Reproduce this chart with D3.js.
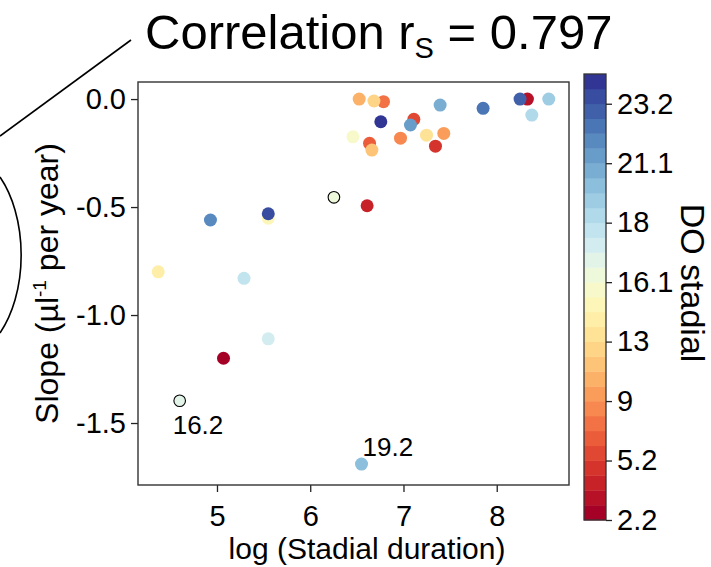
<!DOCTYPE html>
<html>
<head>
<meta charset="utf-8">
<script src="https://cdn.jsdelivr.net/npm/d3@7"></script>
<style>
    body { margin: 0; background: #fff; }
    svg { display: block; font-family: "Liberation Sans", Arial, Helvetica, sans-serif; }
</style>
</head>
<body>
<div id="main"></div>
<script>
"use strict";

// DO stadials in order, index = colour band on the colorbar
const stadials = ["2.2", "3", "4", "5.1", "5.2", "6", "7", "8", "9", "10", "11", "12", "13", "14",
    "15.1", "15.2", "16.1", "16.2", "17.1", "17.2", "18", "19.1", "19.2", "20", "21.1", "21.2",
    "22", "23.1", "23.2", "24.1"];

// one point per stadial (drawing order kept so overlaps look the same)
const pointStadial = ["14", "21.2", "15.1", "23.2", "17.2", "17.1", "2.2", "16.2", "19.2", "16.1", "4",
    "10", "7", "12", "24.1", "15.2", "6", "11", "8", "5.2", "21.1", "20", "13", "9", "5.1",
    "22", "3", "23.1", "19.1", "18"];
const logDuration = [4.37, 4.93, 5.55, 5.55, 5.29, 5.55, 5.07, 4.60, 6.55, 6.254, 6.61,
    6.525, 6.786, 6.683, 6.757, 6.458, 6.636, 6.661, 6.968, 7.111, 7.075, 7.393, 7.247, 7.432, 7.343,
    7.854, 8.329, 8.25, 8.558, 8.376];
const slope = [-0.80, -0.56, -0.552, -0.531, -0.83, -1.11, -1.20, -1.397, -1.69, -0.455, -0.494,
    0.0, -0.012, -0.009, -0.105, -0.175, -0.205, -0.236, -0.181, -0.094, -0.120, -0.028, -0.167, -0.159, -0.218,
    -0.043, 0.0, 0.0, 0.0, -0.074];

const edgedStadials = ["16.1", "16.2"];
const labelledStadials = ["16.2", "19.2"];

const xTicks = [5, 6, 7, 8];
const yTicks = [0.0, -0.5, -1.0, -1.5];
const colorbarTicks = ["2.2", "5.2", "9", "13", "16.1", "18", "21.1", "23.2"];

const correlation = "0.797";

function stadialColor(name) {
    const i = stadials.indexOf(name);
    return d3.interpolateRdYlBu(i / (stadials.length - 1));
}

function draw() {
    const width = 711, height = 567;
    const plot = { left: 138, right: 569, top: 82, bottom: 485 };
    const bar = { left: 584, right: 606, top: 74, bottom: 520 };

    const svg = d3.select("#main").append("svg")
        .attr("width", width)
        .attr("height", height);

    const x = d3.scaleLinear().domain([4.153, 8.775]).range([plot.left, plot.right]);
    const y = d3.scaleLinear().domain([-1.787, 0.079]).range([plot.bottom, plot.top]);

    // bits of the neighbouring panel that got cropped into the figure
    svg.append("path")
        .attr("d", "M0,136 L131,40")
        .attr("stroke", "#000").attr("stroke-width", 1.6).attr("fill", "none");
    svg.append("path")
        .attr("d", "M0,177 A61,103 0 0 1 0,333")
        .attr("stroke", "#000").attr("stroke-width", 1.6).attr("fill", "none");

    // title with subscript
    const title = svg.append("text")
        .attr("x", 145).attr("y", 49)
        .attr("font-size", 49).attr("fill", "#000");
    title.append("tspan").text("Correlation r");
    title.append("tspan").attr("font-size", 29).attr("dy", 9).text("S");
    title.append("tspan").attr("dy", -9).text(" = " + correlation);

    // axes
    const xAxis = d3.axisBottom(x).tickValues(xTicks).tickSize(7).tickPadding(13)
        .tickFormat(d3.format("d"));
    const yAxis = d3.axisLeft(y).tickValues(yTicks).tickSize(7).tickPadding(5)
        .tickFormat(d => d3.format(".1f")(d).replace("−", "-"));

    const gx = svg.append("g").attr("transform", `translate(0,${plot.bottom})`).call(xAxis);
    const gy = svg.append("g").attr("transform", `translate(${plot.left},0)`).call(yAxis);
    [gx, gy].forEach(g => {
        g.select(".domain").remove();
        g.selectAll("line").attr("stroke", "#222").attr("stroke-width", 1.3);
        g.selectAll("text").attr("font-size", 29).attr("fill", "#000")
            .attr("font-family", "Liberation Sans, Arial, sans-serif");
    });

    // frame
    svg.append("rect")
        .attr("x", plot.left).attr("y", plot.top)
        .attr("width", plot.right - plot.left).attr("height", plot.bottom - plot.top)
        .attr("fill", "none").attr("stroke", "#333").attr("stroke-width", 1.4);

    // points
    const points = pointStadial.map((s, i) => ({ stadial: s, x: logDuration[i], y: slope[i] }));
    svg.append("g").selectAll("circle")
        .data(points)
        .join("circle")
        .attr("cx", d => x(d.x))
        .attr("cy", d => y(d.y))
        .attr("r", d => edgedStadials.includes(d.stadial) ? 5.8 : 6.5)
        .attr("fill", d => stadialColor(d.stadial))
        .attr("stroke", d => edgedStadials.includes(d.stadial) ? "#000" : "none")
        .attr("stroke-width", 1.1);

    // annotations for two stadials
    const offsets = { "16.2": [-7, 33], "19.2": [1, -8] };
    svg.append("g").selectAll("text")
        .data(points.filter(d => labelledStadials.includes(d.stadial)))
        .join("text")
        .attr("x", d => x(d.x) + offsets[d.stadial][0])
        .attr("y", d => y(d.y) + offsets[d.stadial][1])
        .attr("font-size", 26)
        .text(d => d.stadial);

    // axis titles
    svg.append("text")
        .attr("x", 367).attr("y", 559)
        .attr("text-anchor", "middle").attr("font-size", 30)
        .text("log (Stadial duration)");

    const ylab = svg.append("text")
        .attr("transform", `translate(58,${(plot.top + plot.bottom) / 2}) rotate(-90)`)
        .attr("text-anchor", "middle").attr("font-size", 32);
    ylab.append("tspan").text("Slope (µl");
    ylab.append("tspan").attr("font-size", 19).attr("dy", -12).text("-1");
    ylab.append("tspan").attr("dy", 12).text(" per year)");

    // discrete colorbar
    const c = d3.scaleLinear().domain([0, stadials.length]).range([bar.bottom, bar.top]);
    svg.append("g").selectAll("rect")
        .data(stadials)
        .join("rect")
        .attr("x", bar.left)
        .attr("width", bar.right - bar.left)
        .attr("y", (d, i) => c(i + 1))
        .attr("height", (d, i) => c(i) - c(i + 1) + 0.4)
        .attr("fill", d => stadialColor(d));
    svg.append("rect")
        .attr("x", bar.left).attr("y", bar.top)
        .attr("width", bar.right - bar.left).attr("height", bar.bottom - bar.top)
        .attr("fill", "none").attr("stroke", "#333").attr("stroke-width", 1.3);

    const cAxis = d3.axisRight(c)
        .tickValues(colorbarTicks.map(s => stadials.indexOf(s)))
        .tickFormat(i => stadials[i])
        .tickSize(6).tickPadding(5);
    const gc = svg.append("g").attr("transform", `translate(${bar.right},0)`).call(cAxis);
    gc.select(".domain").remove();
    gc.selectAll("line").attr("stroke", "#222").attr("stroke-width", 1.3);
    gc.selectAll("text").attr("font-size", 29).attr("fill", "#000")
        .attr("font-family", "Liberation Sans, Arial, sans-serif");

    svg.append("text")
        .attr("transform", "translate(681,283) rotate(90)")
        .attr("text-anchor", "middle").attr("font-size", 34)
        .text("DO stadial");
}

draw();
</script>
</body>
</html>
